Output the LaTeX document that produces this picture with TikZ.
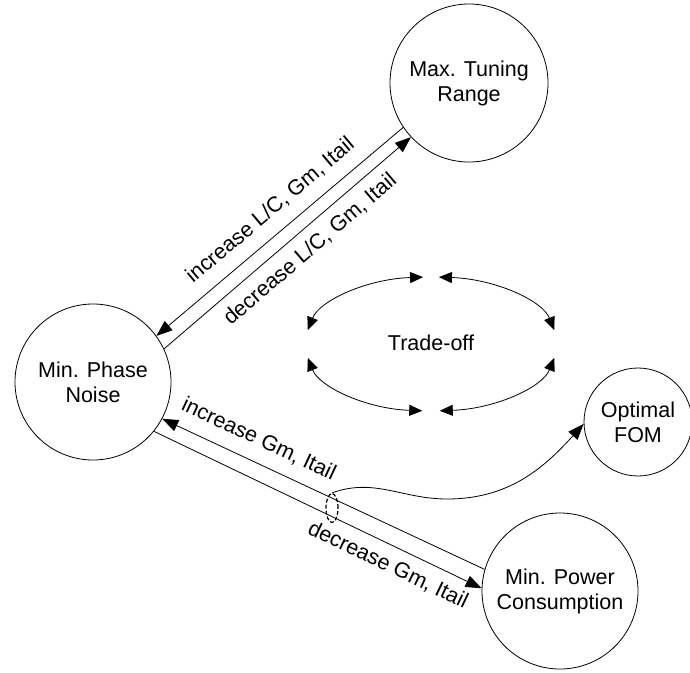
\documentclass[tikz,border=0pt]{standalone}
\usepackage{fontspec}
\setmainfont{Liberation Sans}
\usetikzlibrary{arrows.meta,shapes.geometric}
\begin{document}
\begin{tikzpicture}[x=1pt,y=-1pt,
  state/.style={circle, draw, line width=0.8pt, inner sep=0pt, align=center, font=\fontsize{21.5}{25}\selectfont},
  lnk/.style={line width=0.8pt},
  fwd/.style={-{Triangle[length=16pt,width=12pt]}},
  bwd/.style={{Triangle[length=16pt,width=12pt]}-},
  lab/.style={font=\fontsize{21.5}{25}\selectfont, sloped, inner xsep=0pt, inner ysep=10pt},
  labup/.style={lab, inner ysep=13pt},
  twoway/.style={line width=0.8pt, {Triangle[length=13pt,width=11pt]}-{Triangle[length=13pt,width=11pt]}}]
\useasboundingbox (0,0) rectangle (690,672);
% states
\node[state, minimum size=158pt] (max) at (469,83) {Max. Tuning\\Range};
\node[state, minimum size=156pt] (mpn) at (93,382) {Min. Phase\\Noise};
\node[state, minimum size=156pt] (pwr) at (560,591) {Min. Power\\Consumption};
\node[state, minimum size=108pt] (opt) at (638,422) {Optimal\\FOM};
% top pair
\draw[lnk, bwd] (mpn.36) -- node[labup, above, pos=0.52] {increase L/C, Gm, Itail} (max.214);
\draw[lnk, fwd] (mpn.25) -- node[lab, below, pos=0.54] {decrease L/C, Gm, Itail} (max.223.5);
% bottom pair
\draw[lnk, bwd] (mpn.-28.5) -- node[labup, above, pos=0.27] {increase Gm, Itail} (pwr.164.7);
\draw[lnk, fwd] (mpn.-39.4) -- node[lab, below, pos=0.74] {decrease Gm, Itail} (pwr.178);
% selection ellipse and curve to optimal FOM
\node[ellipse, draw, line width=1.2pt, dash pattern=on 4pt off 2pt, minimum width=12pt, minimum height=29pt, inner sep=0pt] (sel) at (332,508) {};
\coordinate (w) at (447,499);
\draw[lnk, fwd] (sel.north) to[out=20, in=180] (w) to[out=0, in=228] (opt.182);
% trade-off
\node[font=\fontsize{21.5}{25}\selectfont] (tr) at (431,343) {Trade-off};
\coordinate (tl) at (423.1,277.1);
\coordinate (tr1) at (438.9,277.1);
\coordinate (bl) at (307.8,357.9);
\coordinate (br) at (439.8,410.8);
\draw[twoway] (tl) arc[start angle=93.6, end angle=168, x radius=126pt, y radius=67pt];
\draw[twoway] (tr1) arc[start angle=86.4, end angle=12, x radius=126pt, y radius=67pt];
\draw[twoway] (bl) arc[start angle=192, end angle=266, x radius=126pt, y radius=67pt];
\draw[twoway] (br) arc[start angle=274, end angle=348, x radius=126pt, y radius=67pt];
\end{tikzpicture}
\end{document}
